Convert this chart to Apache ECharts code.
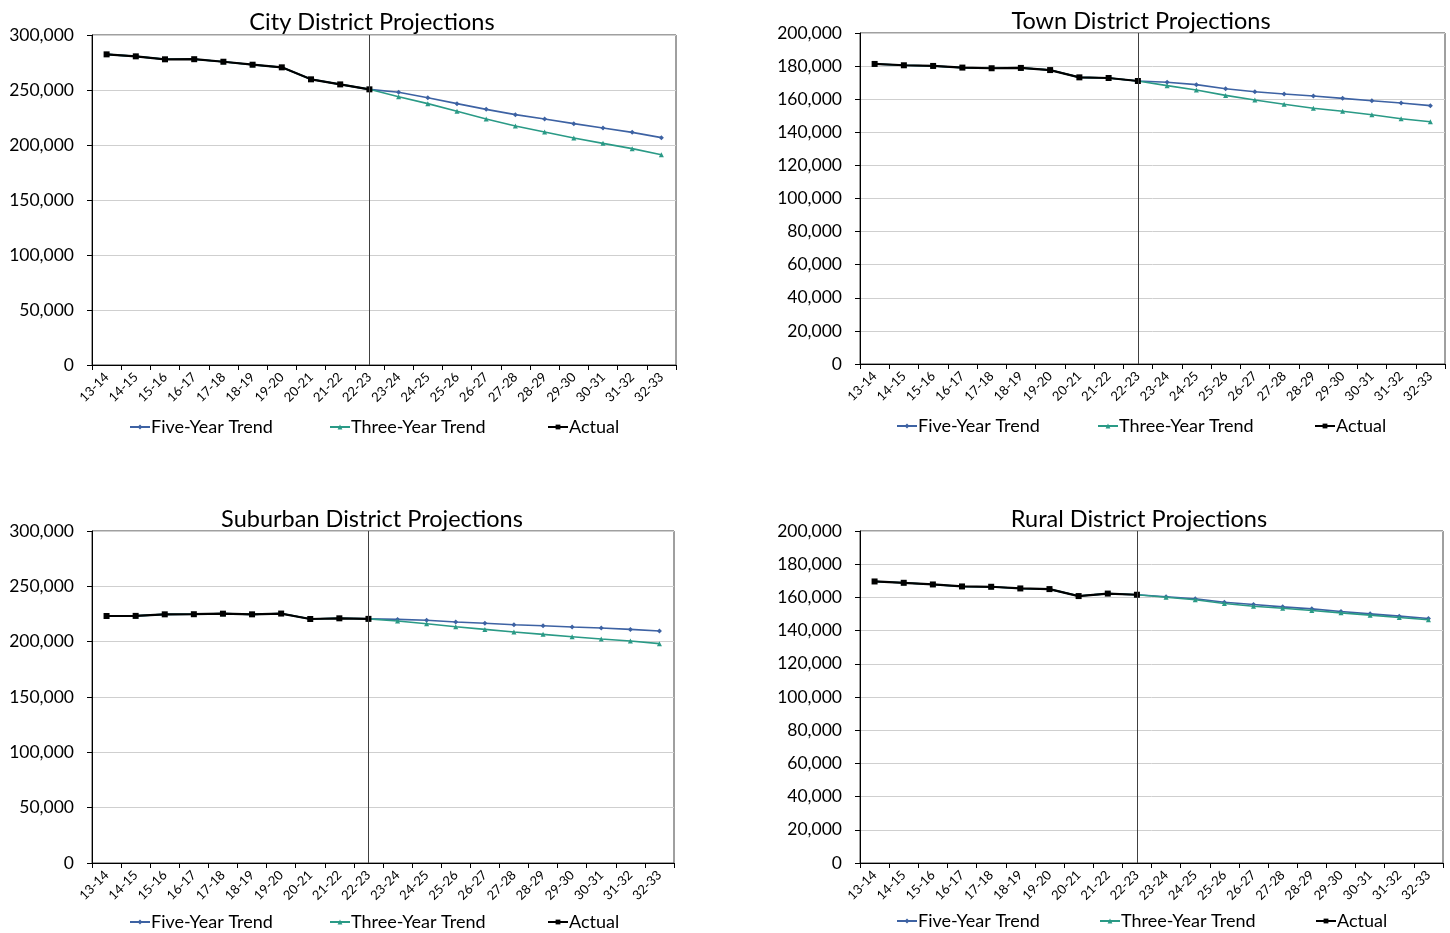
<!DOCTYPE html>
<html>
<head>
<meta charset="utf-8">
<title>District Enrollment Projections</title>
<script src="https://cdn.jsdelivr.net/npm/echarts@6/dist/echarts.min.js"></script>
<style>
  html, body { margin: 0; padding: 0; background: #fff; }
  #chart { width: 1450px; height: 933px; }
</style>
</head>
<body>
<div id="chart"></div>
<script>
// School years on the category axis
const years = ['13-14','14-15','15-16','16-17','17-18','18-19','19-20','20-21','21-22','22-23',
               '23-24','24-25','25-26','26-27','27-28','28-29','29-30','30-31','31-32','32-33'];
const lastActualYear = '22-23';

// City district
const cityActual = [282400, 280600, 277900, 278000, 275700, 273000, 270600, 259700, 255100, 250600];
const cityFive   = [247900, 243000, 237600, 232400, 227600, 223600, 219400, 215500, 211500, 206700];
const cityThree  = [243900, 237600, 230600, 223600, 217300, 211800, 206400, 201500, 196700, 191200];

// Town district
const townActual = [181300, 180500, 180100, 179100, 178700, 178900, 177600, 173200, 172800, 171000];
const townFive   = [170200, 168800, 166300, 164500, 163100, 161900, 160500, 159100, 157700, 156100];
const townThree  = [168200, 165600, 162300, 159500, 156900, 154500, 152700, 150600, 148200, 146400];

// Suburban district
const suburbanActual = [223200, 223300, 224700, 224800, 225300, 224700, 225400, 220500, 221100, 220600];
const suburbanFive   = [220100, 219300, 217800, 216600, 215300, 214400, 213200, 212300, 211100, 209600];
const suburbanThree  = [218700, 216200, 213500, 211100, 208700, 206600, 204500, 202400, 200600, 198200];

// Rural district
const ruralActual = [169600, 168800, 167800, 166600, 166400, 165400, 165000, 160800, 162300, 161600];
const ruralFive   = [160400, 159200, 157100, 155700, 154300, 153100, 151500, 150100, 148700, 147300];
const ruralThree  = [160100, 158600, 156300, 154700, 153500, 152100, 150700, 149300, 147900, 146500];

// Y axis settings per panel
const cityTicks  = { max: 300000, interval: 50000 };
const townTicks  = { max: 200000, interval: 20000 };

const FONT = 'Lato, "Open Sans", sans-serif';
const BLUE = '#3d62a3';
const TEAL = '#2a9a86';
const NAMES = ['Five-Year Trend', 'Three-Year Trend', 'Actual'];

const panels = [
  { title: 'City District Projections', actual: cityActual, five: cityFive, three: cityThree, ticks: cityTicks,
    grid: { left: 92, top: 35, width: 584, height: 330 }, titleX: 367, titleY: 5,
    legendX: [124, 324, 542], legendY: 413 },
  { title: 'Town District Projections', actual: townActual, five: townFive, three: townThree, ticks: townTicks,
    grid: { left: 860, top: 33, width: 585, height: 331 }, titleX: 1136, titleY: 4,
    legendX: [891, 1092, 1309], legendY: 412 },
  { title: 'Suburban District Projections', actual: suburbanActual, five: suburbanFive, three: suburbanThree, ticks: cityTicks,
    grid: { left: 92, top: 531, width: 582, height: 332 }, titleX: 367, titleY: 502,
    legendX: [124, 324, 542], legendY: 908 },
  { title: 'Rural District Projections', actual: ruralActual, five: ruralFive, three: ruralThree, ticks: townTicks,
    grid: { left: 860, top: 531, width: 583, height: 332 }, titleX: 1134, titleY: 502,
    legendX: [891, 1094, 1310], legendY: 907 }
];

const fmt = v => v.toLocaleString('en-US');

const option = {
  animation: false,
  backgroundColor: '#ffffff',
  textStyle: { fontFamily: FONT },
  title: [], legend: [], grid: [], xAxis: [], yAxis: [], series: []
};

panels.forEach((p, i) => {
  option.title.push({
    text: p.title, left: p.titleX, top: p.titleY, textAlign: 'center',
    textStyle: { fontFamily: FONT, fontSize: 23.5, fontWeight: 'normal', color: '#000' }
  });
  NAMES.forEach((name, k) => {
    option.legend.push({
      data: [name], left: p.legendX[k], top: p.legendY,
      itemWidth: 20, itemHeight: 6,
      textStyle: { fontFamily: FONT, fontSize: 18, color: '#000', padding: [0, 0, 0, -4] },
      selectedMode: false
    });
  });
  option.grid.push(Object.assign({ show: true, borderColor: '#404040', borderWidth: 1, backgroundColor: '#fff' }, p.grid));
  option.xAxis.push({
    type: 'category', gridIndex: i, data: years, boundaryGap: true,
    axisLine: { lineStyle: { color: '#000', width: 1 } },
    axisTick: { show: true, length: 5, lineStyle: { color: '#000' } },
    axisLabel: { rotate: 45, fontSize: 13, color: '#000', margin: 10, fontFamily: FONT, interval: 0 },
    splitLine: { show: false }
  });
  option.yAxis.push({
    type: 'value', gridIndex: i, min: 0, max: p.ticks.max, interval: p.ticks.interval,
    axisLine: { show: true, lineStyle: { color: '#000', width: 1 } },
    axisTick: { show: true, length: 5, lineStyle: { color: '#000' } },
    axisLabel: { fontSize: 17.5, color: '#000', margin: 18, fontFamily: FONT, formatter: fmt },
    splitLine: { show: true, lineStyle: { color: '#cfcfcf', width: 1 } }
  });
  // Trend series run through the actual history, then continue as projections
  const fiveData = p.actual.concat(p.five);
  const threeData = p.actual.concat(p.three);
  option.series.push({
    name: NAMES[0], type: 'line', xAxisIndex: i, yAxisIndex: i, data: fiveData,
    color: BLUE, symbol: 'diamond', symbolSize: 5, showSymbol: true,
    lineStyle: { width: 1.6, color: BLUE }, itemStyle: { color: BLUE }, z: 2
  });
  option.series.push({
    name: NAMES[1], type: 'line', xAxisIndex: i, yAxisIndex: i, data: threeData,
    color: TEAL, symbol: 'triangle', symbolSize: 5, showSymbol: true,
    lineStyle: { width: 1.6, color: TEAL }, itemStyle: { color: TEAL }, z: 3
  });
  option.series.push({
    name: NAMES[2], type: 'line', xAxisIndex: i, yAxisIndex: i, data: p.actual,
    color: '#000', symbol: 'rect', symbolSize: 6, showSymbol: true,
    lineStyle: { width: 2.2, color: '#000' }, itemStyle: { color: '#000' }, z: 4,
    markLine: {
      silent: true, symbol: ['none', 'none'], label: { show: false },
      lineStyle: { color: '#404040', width: 1, type: 'solid' },
      data: [{ xAxis: lastActualYear }]
    }
  });
});

const chart = echarts.init(document.getElementById('chart'), null, { renderer: 'canvas' });
chart.setOption(option);
</script>
</body>
</html>
